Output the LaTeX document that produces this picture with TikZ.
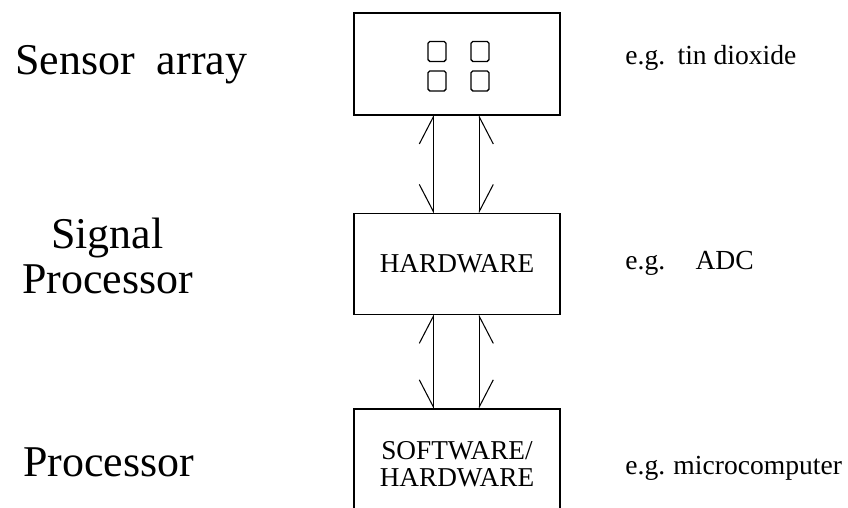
\documentclass[tikz,border=0pt]{standalone}
\usepackage{fontspec}
\setmainfont{Liberation Serif}
\usetikzlibrary{positioning,arrows.meta}

\begin{document}
\begin{tikzpicture}[node distance=1.9cm]
    \tikzstyle{unit}   = [draw, rectangle, line width=0.8pt, minimum width=4.12cm, text centered, align=center, font=\fontsize{15.5}{15.3}\selectfont, inner sep=0pt]
    \tikzstyle{cell}   = [draw, rectangle, line width=0.8pt, minimum width=0.36cm, minimum height=0.4cm, rounded corners=1pt, inner sep=0pt]
    \tikzstyle{stage}  = [font=\fontsize{25}{26}\selectfont, align=center, inner sep=0pt]
    \tikzstyle{eg}     = [font=\fontsize{15.7}{16}\selectfont, anchor=base west, inner sep=0pt]
    \tikzstyle{leftbus}  = [line width=0.6pt, shorten <=-0.5pt, shorten >=-0.5pt, {Straight Barb[length=5.4mm,width=5.6mm,right]}-{Straight Barb[length=5.4mm,width=5.6mm,left]}]
    \tikzstyle{rightbus} = [line width=0.6pt, shorten <=-0.5pt, shorten >=-0.5pt, {Straight Barb[length=5.4mm,width=5.6mm,left]}-{Straight Barb[length=5.4mm,width=5.6mm,right]}]

    \useasboundingbox (0,0) rectangle (16.96,10.16);

    \node [unit, minimum height=2.04cm] (sensor) at (9.14,8.88) {};
    \node [unit, minimum height=2.02cm, below=1.94cm of sensor] (sigproc) {HARDWARE};
    \node [unit, minimum height=2.2cm, below=1.86cm of sigproc] (proc) {SOFTWARE/\\HARDWARE};

    % sensor elements
    \node [cell] (cell1) at ([xshift=-0.4cm, yshift=0.25cm]sensor.center) {};
    \node [cell] (cell2) at ([xshift=0.46cm, yshift=0.25cm]sensor.center) {};
    \node [cell] (cell3) at ([xshift=-0.4cm, yshift=-0.34cm]sensor.center) {};
    \node [cell] (cell4) at ([xshift=0.46cm, yshift=-0.34cm]sensor.center) {};

    % stage names
    \node [stage, anchor=base west] (sensorlbl) at (0.3,8.66) {Sensor~~array};
    \node [stage, anchor=base] (sigproclbl) at (2.15,4.28) {Signal\\Processor};
    \node [stage, anchor=base west] (proclbl) at (0.46,0.62) {Processor};

    % examples
    \node [eg] (sensoreg) at (12.5,8.86) {e.g.\hspace{0.45em}tin dioxide};
    \node [eg] (sigproceg) at (12.5,4.76) {e.g.\hspace{1.1em}ADC};
    \node [eg] (proceg) at (12.5,0.66) {e.g.\hspace{0.3em}microcomputer};

    % buses
    \draw [leftbus]  ([xshift=1.6cm]sigproc.north west) -- ([xshift=1.6cm]sensor.south west);
    \draw [rightbus] ([xshift=2.52cm]sigproc.north west) -- ([xshift=2.52cm]sensor.south west);
    \draw [leftbus]  ([xshift=1.6cm]proc.north west) -- ([xshift=1.6cm]sigproc.south west);
    \draw [rightbus] ([xshift=2.52cm]proc.north west) -- ([xshift=2.52cm]sigproc.south west);

\end{tikzpicture}
\end{document}
